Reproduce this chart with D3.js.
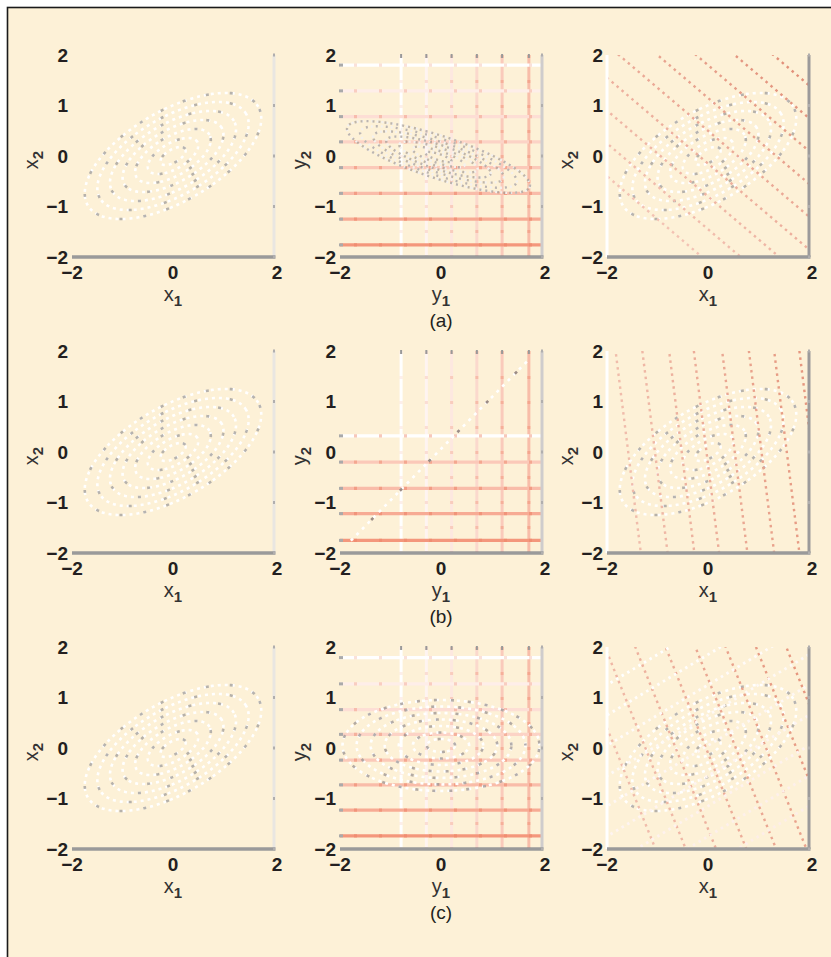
<!DOCTYPE html>
<html><head><meta charset="utf-8">
<script src="https://cdn.jsdelivr.net/npm/d3@7"></script>
<style>html,body{margin:0;padding:0;background:#fff;} svg{display:block}</style>
</head><body><svg id="c" width="831" height="957"></svg>
<script>
// ---------- data ----------
const yTicks = [2, 1, 0, -1, -2];
const xTicks = [-2, 0, 2];
const panelLabels = ["(a)", "(b)", "(c)"];
const xTitles = [["x", "1"], ["y", "1"], ["x", "1"]];
const yTitles = [["x", "2"], ["y", "2"], ["x", "2"]];
const ellipseLevels = [1/7, 2/7, 3/7, 4/7, 5/7, 6/7, 1];
const xEllipse = {cx: 0, cy: 0, a: 1.95, b: 0.9, deg: 30};
const yEllipses = [
  {cx: -0.05, cy: -0.02, a: 1.9, b: 0.42, deg: -18},
  {cx: -0.04, cy: 0.02, a: 2.49, b: 0, deg: 45.5},
  {cx: 0, cy: 0.05, a: 1.95, b: 0.9, deg: 0}
];
const hLinesA = [1.8, 1.29, 0.78, 0.28, -0.23, -0.74, -1.25, -1.76];
const hLinesB = [0.32, -0.2, -0.72, -1.22, -1.75];
const hLinesC = [1.79, 1.27, 0.76, 0.27, -0.24, -0.73, -1.23, -1.74];
const vLines = [-0.79, -0.29, 0.21, 0.71, 1.21, 1.74];
const hLinesByRow = [hLinesA, hLinesB, hLinesC];
// lines in x-space: n1*x1 + n2*x2 = c
const xLineFamilies = [
  [{n: [0.85, 1], c: [-2.1, -1.45, -0.8, -0.15, 0.5, 1.15, 1.8, 2.45, 3.1, 3.7], tone: "h"}],
  [{n: [1, 0.125], c: [-1.58, -1.05, -0.52, -0.03, 0.53, 1.06, 1.56, 2.06], tone: "r"}],
  [{n: [1, 0.4], c: [-1.84, -1.24, -0.64, -0.04, 0.55, 1.15, 1.75, 2.35], tone: "r"},
   {n: [-0.6, 1], c: [2.45, 1.85, 1.25, 0.65, 0.05, -0.55, -1.15, -1.75, -2.35], tone: "w"}]
];

// ---------- layout / style ----------
const colX = [72, 340, 607], rowY = [55, 351, 647], W = 202, H = 202;
const BG = "#fdf1d7", INK = "#231f20";
const hColor = t => d3.interpolateRgbBasis(["#ffffff", "#fcd6ca", "#fbc6b5", "#f4977c"])(t);
const vColor = t => d3.interpolateRgbBasis(["#ffffff", "#fdeee8", "#fbd3c6", "#f8bda9"])(t);
const toneColor = {h: t => d3.interpolateRgb("#f3c2b3", "#e08a72")(t),
                   r: t => d3.interpolateRgb("#f0bcab", "#e6977f")(t),
                   w: t => d3.interpolateRgb("#ffffff", "#fdeee8")(t)};

const svg = d3.select("#c");
svg.append("rect").attr("width", 831).attr("height", 957).attr("fill", "#fff");
svg.append("rect").attr("x", 7.5).attr("y", 7.5).attr("width", 840).attr("height", 960)
  .attr("fill", BG).attr("stroke", "#1a1a1a").attr("stroke-width", 1.6);

function ellipsePts(e, k) {
  const th = e.deg * Math.PI / 180;
  return d3.range(0, 360, 2).map(t => {
    const r = t * Math.PI / 180, u = e.a * k * Math.cos(r), v = e.b * k * Math.sin(r);
    return [e.cx + u * Math.cos(th) - v * Math.sin(th), e.cy + u * Math.sin(th) + v * Math.cos(th)];
  });
}

function drawEllipses(g, x, y, e, style) {
  const line = d3.line().x(d => x(d[0])).y(d => y(d[1]));
  if (e.b === 0) {
    const th = e.deg * Math.PI / 180;
    const p = [[e.cx - e.a * Math.cos(th), e.cy - e.a * Math.sin(th)], [e.cx + e.a * Math.cos(th), e.cy + e.a * Math.sin(th)]];
    g.append("path").attr("d", line(p)).attr("fill", "none").attr("stroke", "#fff")
      .attr("stroke-width", 2.6).attr("stroke-dasharray", "3 5");
    g.append("path").attr("d", line(p)).attr("fill", "none").attr("stroke", "#9c8c86")
      .attr("stroke-width", 2.6).attr("stroke-dasharray", "3 38").attr("stroke-dashoffset", 12);
    return;
  }
  const cl = d3.line().x(d => x(d[0])).y(d => y(d[1])).curve(d3.curveLinearClosed);
  ellipseLevels.forEach((k, i) => {
    const d = cl(ellipsePts(e, k));
    g.append("path").attr("d", d).attr("fill", "none").attr("stroke", style.main)
      .attr("stroke-width", style.w || 2.6).attr("stroke-dasharray", style.dash);
    g.append("path").attr("d", d).attr("fill", "none").attr("stroke", style.accent)
      .attr("stroke-width", style.w || 2.6)
      .attr("stroke-dasharray", style.adash[0] + " " + (style.adash[1] + (i % 3) * style.adash[2]))
      .attr("stroke-dashoffset", i * 11).attr("opacity", style.aop);
  });
}

for (let r = 0; r < 3; r++) {
  for (let c = 0; c < 3; c++) {
    const x0 = colX[c], y0 = rowY[r];
    const x = d3.scaleLinear().domain([-2, 2]).range([x0, x0 + W]);
    const y = d3.scaleLinear().domain([-2, 2]).range([y0 + H, y0]);
    const g = svg.append("g");
    const clipId = `clip${r}${c}`;
    svg.append("clipPath").attr("id", clipId).append("rect")
      .attr("x", x0).attr("y", y0).attr("width", W).attr("height", H);
    const inner = g.append("g").attr("clip-path", `url(#${clipId})`);

    if (c === 1) {
      const hl = hLinesByRow[r];
      vLines.forEach((v, i) => {
        inner.append("line").attr("x1", x(v)).attr("x2", x(v)).attr("y1", y(2)).attr("y2", y(-2))
          .attr("stroke", vColor(i / (vLines.length - 1))).attr("stroke-width", 3);
        inner.append("line").attr("x1", x(v)).attr("x2", x(v)).attr("y1", y(2)).attr("y2", y(-2))
          .attr("stroke", "#f39a80").attr("stroke-width", 3).attr("stroke-dasharray", "3 22")
          .attr("opacity", 0.15 + 0.5 * i / (vLines.length - 1));
        g.append("line").attr("x1", x(v)).attr("x2", x(v)).attr("y1", y(2) - 1).attr("y2", y(2) + 3)
          .attr("stroke", "#999").attr("stroke-width", 2);
      });
      hl.forEach((h, i) => {
        const t = hl.length === 5 ? (i + 3) / 7 : i / (hl.length - 1);
        const col = r === 1 && i === 0 ? "#ffffff" : hColor(t);
        inner.append("line").attr("x1", x(-2)).attr("x2", x(2)).attr("y1", y(h)).attr("y2", y(h))
          .attr("stroke", col).attr("stroke-width", 3.2);
        inner.append("line").attr("x1", x(-2)).attr("x2", x(2)).attr("y1", y(h)).attr("y2", y(h))
          .attr("stroke", "#ef8a6e").attr("stroke-width", 3.2).attr("stroke-dasharray", "3 22")
          .attr("stroke-dashoffset", -14).attr("opacity", 0.25 + 0.5 * t);
        g.append("line").attr("x1", x(-2) - 1).attr("x2", x(-2) + 3).attr("y1", y(h)).attr("y2", y(h))
          .attr("stroke", "#aaa").attr("stroke-width", 3);
      });
      const st = r === 0 ? {main: "#f4f1ee", dash: "2 3", accent: "#a49b96", adash: [2, 4, 2], aop: 0.7, w: 2.4}
                         : {main: "#ffffff", dash: "3 4", accent: "#9a9290", adash: [3, 14, 5], aop: 0.75};
      drawEllipses(inner, x, y, yEllipses[r], st);
    } else {
      drawEllipses(inner, x, y, xEllipse, {main: "#ffffff", dash: "3 4", accent: "#a9a6a2", adash: [3, 21, 6], aop: 0.85});
      if (c === 2) {
        xLineFamilies[r].forEach(f => {
          const nn = f.n[0] * f.n[0] + f.n[1] * f.n[1];
          f.c.forEach((cc, i) => {
            const p0 = [cc * f.n[0] / nn, cc * f.n[1] / nn];
            const d = [-f.n[1] / Math.sqrt(nn), f.n[0] / Math.sqrt(nn)];
            inner.append("line")
              .attr("x1", x(p0[0] - 10 * d[0])).attr("y1", y(p0[1] - 10 * d[1]))
              .attr("x2", x(p0[0] + 10 * d[0])).attr("y2", y(p0[1] + 10 * d[1]))
              .attr("stroke", toneColor[f.tone](i / (f.c.length - 1)))
              .attr("stroke-width", f.tone === "w" ? 2.8 : 2.4).attr("stroke-dasharray", "2.5 4");
          });
        });
      }
    }

    const rightCol = c === 0 ? "#e9e6e1" : (c === 1 ? "#cfcccc" : "#9c9a9a");
    g.append("line").attr("x1", x(2)).attr("x2", x(2)).attr("y1", y(2)).attr("y2", y(-2))
      .attr("stroke", rightCol).attr("stroke-width", 3);
    if (c === 2) {
      g.append("line").attr("x1", x(-2)).attr("x2", x(-2)).attr("y1", y(2)).attr("y2", y(-2))
        .attr("stroke", "#ffffff").attr("stroke-width", 3);
    }
    g.append("line").attr("x1", x(-2)).attr("x2", x(2) + 1.5).attr("y1", y(-2)).attr("y2", y(-2))
      .attr("stroke", "#9a9a9a").attr("stroke-width", 3.5);
    yTicks.forEach(t => {
      g.append("line").attr("x1", x(2) - 1).attr("x2", x(2) + 1).attr("y1", y(t)).attr("y2", y(t))
        .attr("stroke", "#b0aeae").attr("stroke-width", 3);
    });

    const fmt = v => v < 0 ? "\u2212" + Math.abs(v) : String(v);
    g.selectAll(null).data(yTicks).join("text")
      .attr("x", x(-2) - 4).attr("y", d => y(d)).attr("dy", "0.36em")
      .attr("text-anchor", "end").attr("font-family", "Liberation Sans, Arial, sans-serif")
      .attr("font-size", 19).attr("font-weight", "bold").attr("fill", INK).text(fmt);
    g.selectAll(null).data(xTicks).join("text")
      .attr("x", d => x(d) + (d === 2 ? 3 : 0)).attr("y", y(-2) + 15).attr("dy", "0.36em")
      .attr("text-anchor", "middle").attr("font-family", "Liberation Sans, Arial, sans-serif")
      .attr("font-size", 19).attr("font-weight", "bold").attr("fill", INK).text(fmt);

    const xt = g.append("text").attr("x", x(0)).attr("y", y(-2) + 44).attr("text-anchor", "middle")
      .attr("font-family", "Liberation Sans, Arial, sans-serif").attr("font-size", 20).attr("fill", "#333");
    xt.append("tspan").text(xTitles[c][0]);
    xt.append("tspan").attr("dy", 5).attr("font-size", 15).attr("font-weight", "bold").text(xTitles[c][1]);
    const yt = g.append("text")
      .attr("transform", `translate(${x0 - 34},${y(0) + 4}) rotate(-90)`).attr("text-anchor", "middle")
      .attr("font-family", "Liberation Sans, Arial, sans-serif").attr("font-size", 20).attr("fill", "#333");
    yt.append("tspan").text(yTitles[c][0]);
    yt.append("tspan").attr("dy", 5).attr("font-size", 15).attr("font-weight", "bold").text(yTitles[c][1]);

    if (c === 1) {
      g.append("text").attr("x", x(0)).attr("y", y(-2) + 70).attr("text-anchor", "middle")
        .attr("font-family", "Liberation Sans, Arial, sans-serif").attr("font-size", 19)
        .attr("fill", INK).text(panelLabels[r]);
    }
  }
}
</script></body></html>
